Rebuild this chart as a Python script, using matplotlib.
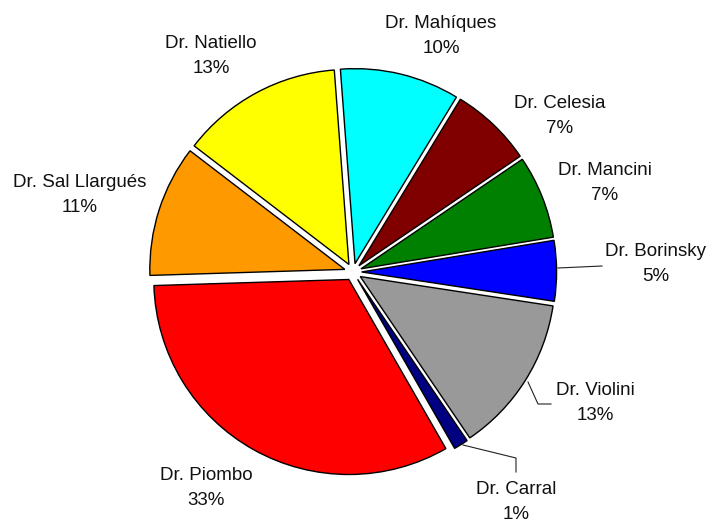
import matplotlib
matplotlib.use('Agg')
import matplotlib.pyplot as plt

# slice data, clockwise from the top
doctors = ['Dr. Mahíques', 'Dr. Celesia', 'Dr. Mancini', 'Dr. Borinsky', 'Dr. Violini',
           'Dr. Carral', 'Dr. Piombo', 'Dr. Sal Llargués', 'Dr. Natiello']
shares = [9.9, 6.8, 6.9, 5.0, 13.1, 1.2, 32.8, 10.9, 13.4]
colors = ['#00FFFF', '#800000', '#008000', '#0000FF', '#999999',
          '#000080', '#FF0000', '#FF9900', '#FFFF00']

# label centres in image pixels (x, y from top)
label_pos = [(441, 36), (560, 116), (605, 183), (656, 264), (595, 403),
             (516, 502), (206, 488), (80, 195), (211, 56)]

W, H = 713, 523
CX, CY, R = 353, 272, 195


def px(x, y):
    return (x - CX) / R, (CY - y) / R


plt.rcParams['font.family'] = ['Liberation Sans', 'DejaVu Sans']

fig = plt.figure(figsize=(W / 100, H / 100), dpi=100)
ax = fig.add_axes([0, 0, 1, 1])

ax.pie(shares, colors=colors, startangle=94.3, counterclock=False,
       explode=[0.044] * len(shares), radius=1,
       wedgeprops=dict(edgecolor='black', linewidth=1.0))

for name, v, (lx, ly) in zip(doctors, shares, label_pos):
    ax.text(*px(lx, ly), f'{name}\n{round(v)}%', ha='center', va='center',
            fontsize=13.5, linespacing=1.55, color='#111111')

# leader lines for the labels that sit away from their slices
leaders = [
    [(558, 268), (602, 266)],
    [(528, 382), (538, 404), (551, 404)],
    [(463, 445), (516, 458), (516, 472)],
]
for pts in leaders:
    xs, ys = zip(*[px(x, y) for x, y in pts])
    ax.plot(xs, ys, color='#222222', linewidth=0.8)

ax.set_xlim(-CX / R, (W - CX) / R)
ax.set_ylim((CY - H) / R, CY / R)
ax.set_aspect('auto')
ax.axis('off')

fig.savefig('out.png', dpi=100)
